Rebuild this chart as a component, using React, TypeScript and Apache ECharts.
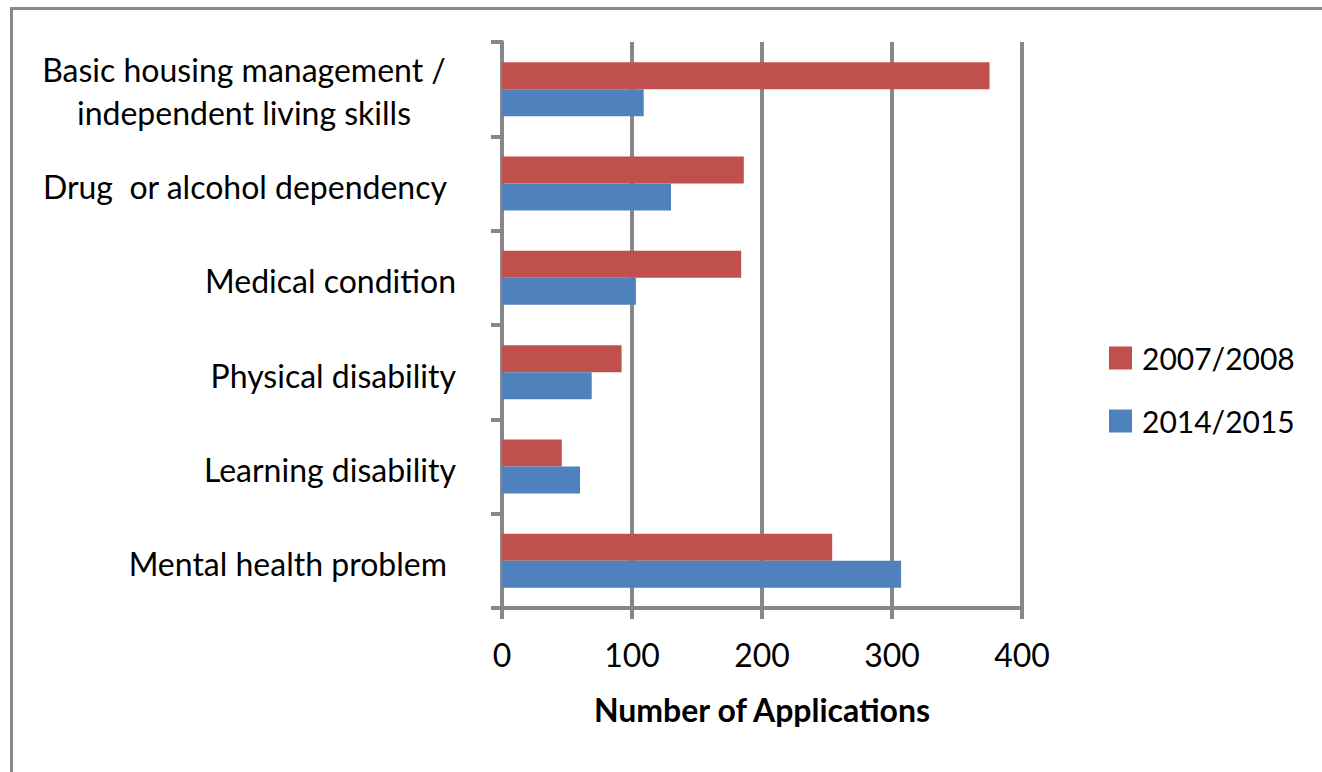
import React, { useEffect, useRef } from 'react';
import * as echarts from 'echarts';

const categories = [
  'Mental health problem',
  'Learning disability',
  'Physical disability',
  'Medical condition',
  'Drug  or alcohol dependency',
  'Basic housing management /\nindependent living skills',
];
const seriesNames = ['2007/2008', '2014/2015'];
const values2007 = [254, 46, 92, 184, 186, 375];
const values2014 = [307, 60, 69, 103, 130, 109];
const xTicks = [0, 100, 200, 300, 400];
const xAxisTitle = 'Number of Applications';

export default function App() {
  const ref = useRef<HTMLDivElement>(null);
  useEffect(() => {
    const chart = echarts.init(ref.current!, null, { renderer: 'svg' });
    const font = 'Lato';
    const grey = '#878787';
    const fs = 32;
    const padded = new Set(['Mental health problem', 'Drug  or alcohol dependency']);
    chart.setOption({
      animation: false,
      backgroundColor: '#ffffff',
      textStyle: { fontFamily: font },
      graphic: [
        {
          type: 'rect',
          shape: { x: 11.5, y: 8.5, width: 1400, height: 900 },
          style: { fill: 'none', stroke: '#898989', lineWidth: 3 },
          z: 0,
        },
      ],
      grid: { left: 502, right: 300, top: 42, bottom: 164, containLabel: false },
      legend: {
        orient: 'vertical',
        left: 1109,
        top: 343,
        padding: 0,
        itemWidth: 23,
        itemHeight: 23,
        itemGap: 33,
        icon: 'rect',
        data: seriesNames,
        textStyle: { fontFamily: font, fontSize: 30, color: '#000', lineHeight: 24, padding: [0, 0, 0, 5] },
      },
      xAxis: {
        type: 'value',
        min: xTicks[0],
        max: xTicks[xTicks.length - 1],
        interval: xTicks[1] - xTicks[0],
        axisLine: { show: true, lineStyle: { color: grey, width: 4 } },
        axisTick: { show: true, length: 11, lineStyle: { color: grey, width: 4 } },
        splitLine: { show: true, lineStyle: { color: grey, width: 4 } },
        axisLabel: { fontFamily: font, fontSize: fs, color: '#000', margin: 30 },
        name: xAxisTitle,
        nameLocation: 'middle',
        nameGap: 85,
        nameTextStyle: { fontFamily: font, fontSize: fs, fontWeight: 'bold', color: '#000' },
      },
      yAxis: {
        type: 'category',
        data: categories,
        boundaryGap: true,
        axisLine: { show: true, lineStyle: { color: grey, width: 4 } },
        axisTick: { show: true, length: 11, alignWithLabel: false, lineStyle: { color: grey, width: 4 } },
        splitLine: { show: false },
        axisLabel: {
          margin: 46,
          fontFamily: font,
          fontSize: fs,
          color: '#000',
          formatter: (v: string) => {
            if (v.indexOf('\n') >= 0) {
              return v
                .split('\n')
                .map((l) => `{c|${l}}`)
                .join('\n');
            }
            if (padded.has(v)) return `{p|${v}}`;
            return `{r|${v}}`;
          },
          rich: {
            c: { width: 424, align: 'center', fontFamily: font, fontSize: fs, color: '#000', lineHeight: 43, padding: [3, 0, 0, 0] },
            p: { padding: [6, 9, 0, 0], fontFamily: font, fontSize: fs, color: '#000' },
            r: { padding: [6, 0, 0, 0], fontFamily: font, fontSize: fs, color: '#000' },
          },
        },
      },
      series: [
        {
          name: seriesNames[0],
          type: 'bar',
          data: values2007,
          barWidth: 27,
          barGap: '0%',
          itemStyle: { color: '#C0504D' },
        },
        {
          name: seriesNames[1],
          type: 'bar',
          data: values2014,
          barWidth: 27,
          barGap: '0%',
          itemStyle: { color: '#4F81BD' },
        },
      ],
    });
    return () => chart.dispose();
  }, []);
  return <div ref={ref} style={{ position: 'fixed', left: 0, top: 0, width: 1322, height: 772 }} />;
}
